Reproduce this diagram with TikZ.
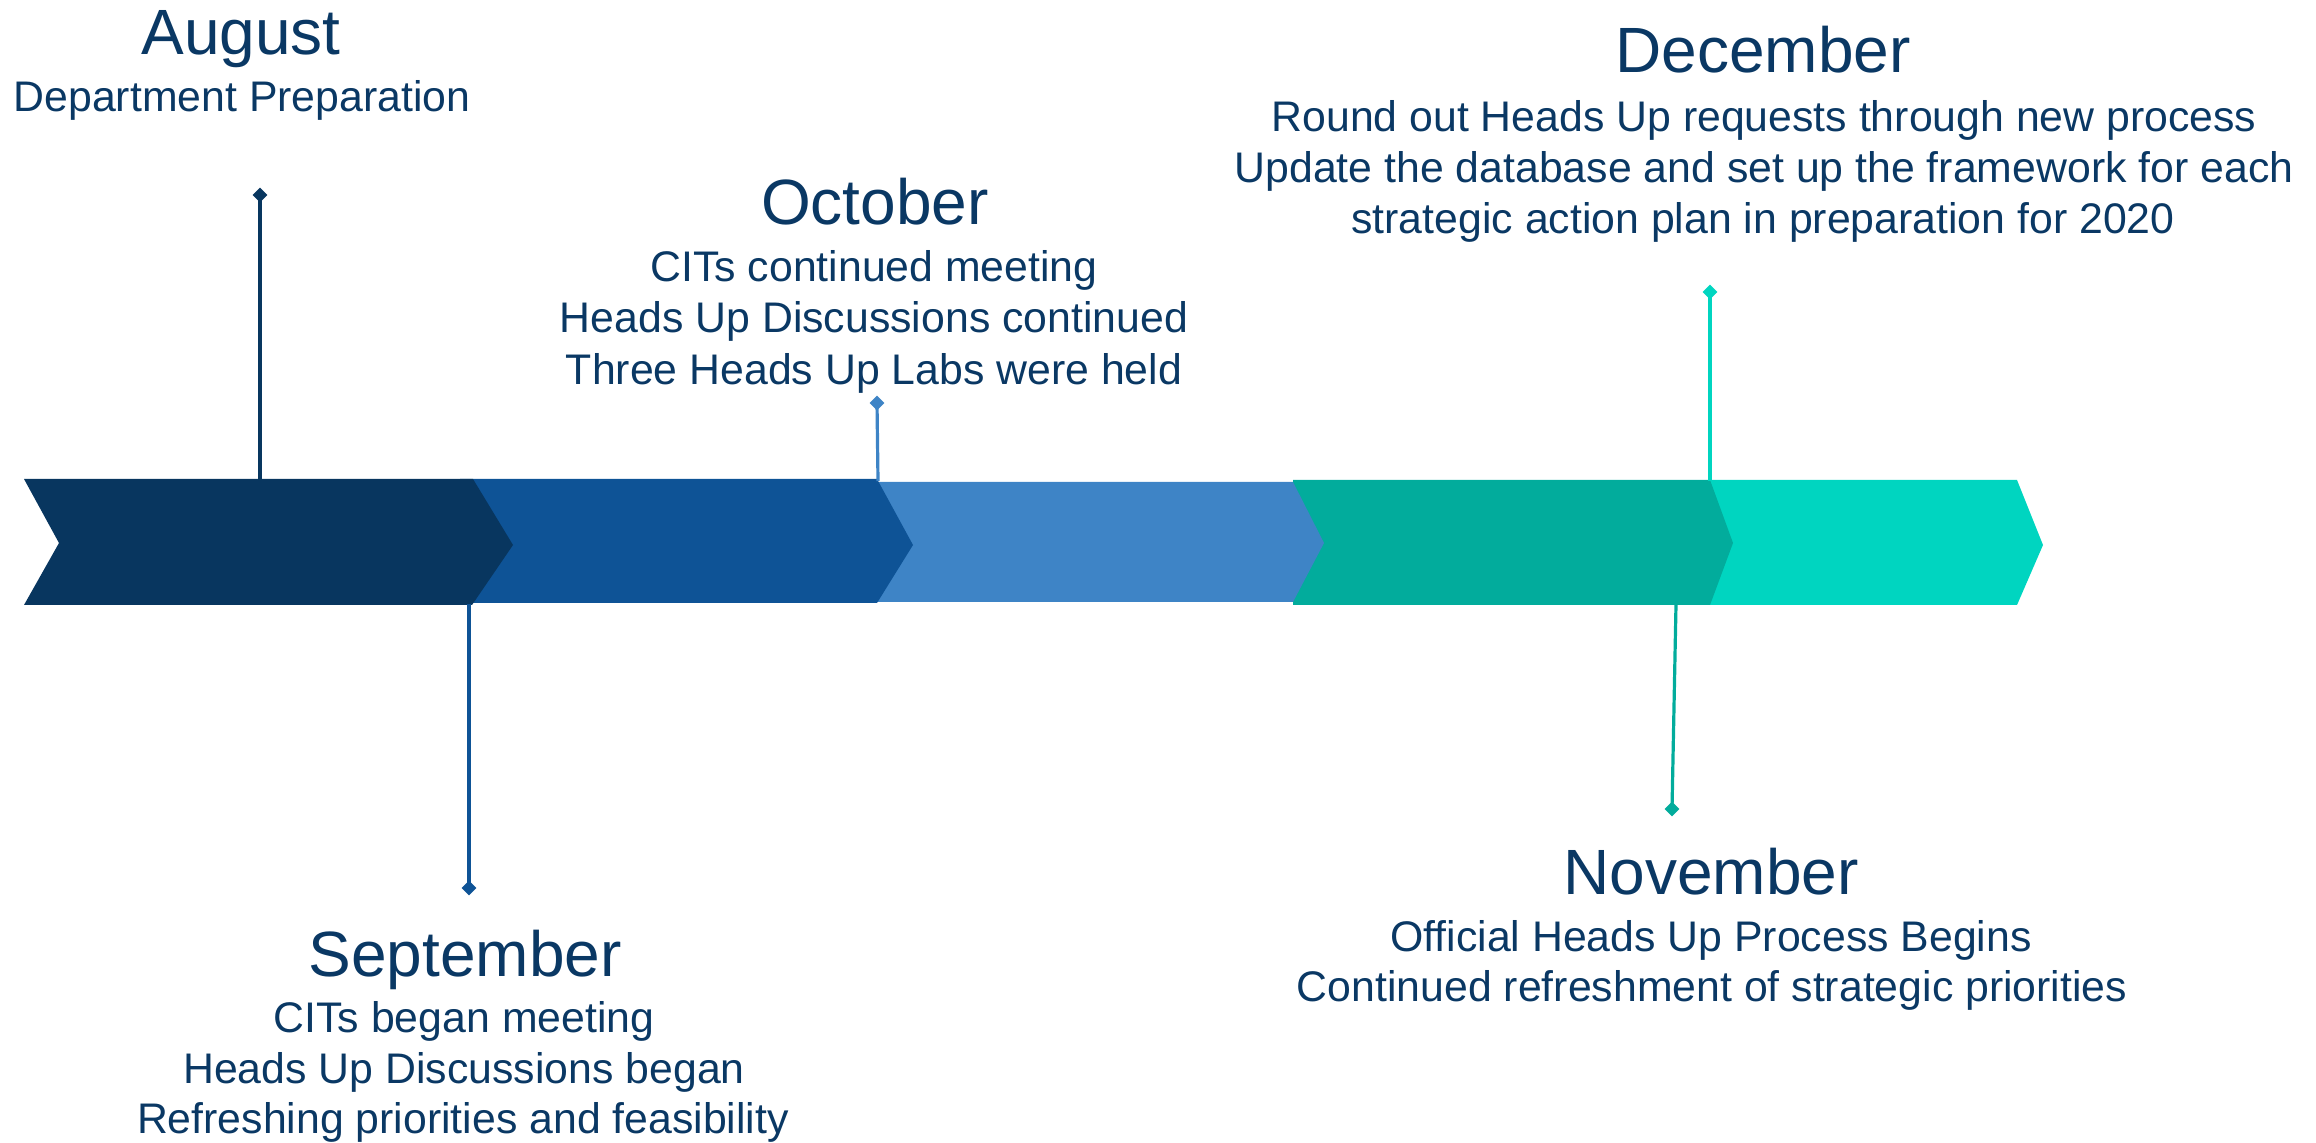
\documentclass[tikz,border=0pt]{standalone}
\usepackage{fontspec}
\setmainfont{Liberation Sans}
\usetikzlibrary{shapes.geometric}
\definecolor{txt}{RGB}{10,56,100}
\definecolor{cA}{RGB}{8,54,95}
\definecolor{cB}{RGB}{14,83,150}
\definecolor{cC}{RGB}{62,132,198}
\definecolor{cD}{RGB}{2,172,156}
\definecolor{cE}{RGB}{0,213,192}
\tikzset{
  monthlabel/.style={font=\fontsize{32}{38}\selectfont, text=txt, inner sep=0pt, anchor=base},
  bodyline/.style={font=\fontsize{21.4}{25}\selectfont, text=txt, inner sep=0pt, anchor=base},
  stem/.style={line width=1.6pt},
  dot/.style={diamond, aspect=1, inner sep=0pt, minimum width=7.5pt, minimum height=7.5pt},
}
\begin{document}
\begin{tikzpicture}[x=0.5pt,y=-0.5pt]
\useasboundingbox (0,0) rectangle (2316,1143);
% chevrons (back to front)
\fill[cE] (1708,480) -- (2017,480) -- (2043,545) -- (2017,605) -- (1708,605) -- cycle;
\fill[cD] (1293,480) -- (1710,480) -- (1733,543) -- (1710,605) -- (1293,605) -- cycle;
\fill[cC] (860,482) -- (1293,482) -- (1324,543) -- (1293,602) -- (860,602) -- cycle;
\fill[cB] (460,479) -- (877,479) -- (913,545) -- (877,603) -- (460,603) -- cycle;
\fill[cA] (24,479) -- (473,479) -- (513,545) -- (472,605) -- (24,605) -- (59,543) -- cycle;
% anchor points on the chevrons
\coordinate (augbar) at (260,480);
\coordinate (sepbar) at (469,604);
\coordinate (octbar) at (878,481);
\coordinate (novbar) at (1676,604);
\coordinate (decbar) at (1710,481);
% markers
\node[dot, fill=cA] (augdot) at (260,195) {};
\node[dot, fill=cB] (sepdot) at (469,888) {};
\node[dot, fill=cC] (octdot) at (877,403) {};
\node[dot, fill=cD] (novdot) at (1672,809) {};
\node[dot, fill=cE] (decdot) at (1710,292) {};
\draw[stem, cA] (augdot.center) -- (augbar);
\draw[stem, cB] (sepdot.center) -- (sepbar);
\draw[stem, cC] (octdot.center) -- (octbar);
\draw[stem, cD] (novdot.center) -- (novbar);
\draw[stem, cE] (decdot.center) -- (decbar);
% August
\node[monthlabel] (augt) at (241,55) {August};
\node[bodyline] (aug1) at (242,112) {Department Preparation};
% September
\node[monthlabel] (sept) at (465,976) {September};
\node[bodyline] (sep1) at (464,1032) {CITs began meeting};
\node[bodyline] (sep2) at (464,1083) {Heads Up Discussions began};
\node[bodyline] (sep3) at (463,1133) {Refreshing priorities and feasibility};
% October
\node[monthlabel] (octt) at (875,225) {October};
\node[bodyline] (oct1) at (874,282) {CITs continued meeting};
\node[bodyline] (oct2) at (874,333) {Heads Up Discussions continued};
\node[bodyline] (oct3) at (874,385) {Three Heads Up Labs were held};
% November
\node[monthlabel] (novt) at (1711,894) {November};
\node[bodyline] (nov1) at (1711,951) {Official Heads Up Process Begins};
\node[bodyline] (nov2) at (1712,1001) {Continued refreshment of strategic priorities};
% December
\node[monthlabel] (dect) at (1763,73) {December};
\node[bodyline] (dec1) at (1764,132) {Round out Heads Up requests through new process};
\node[bodyline] (dec2) at (1764,183) {Update the database and set up the framework for each};
\node[bodyline] (dec3) at (1763,234) {strategic action plan in preparation for 2020};
\end{tikzpicture}
\end{document}
